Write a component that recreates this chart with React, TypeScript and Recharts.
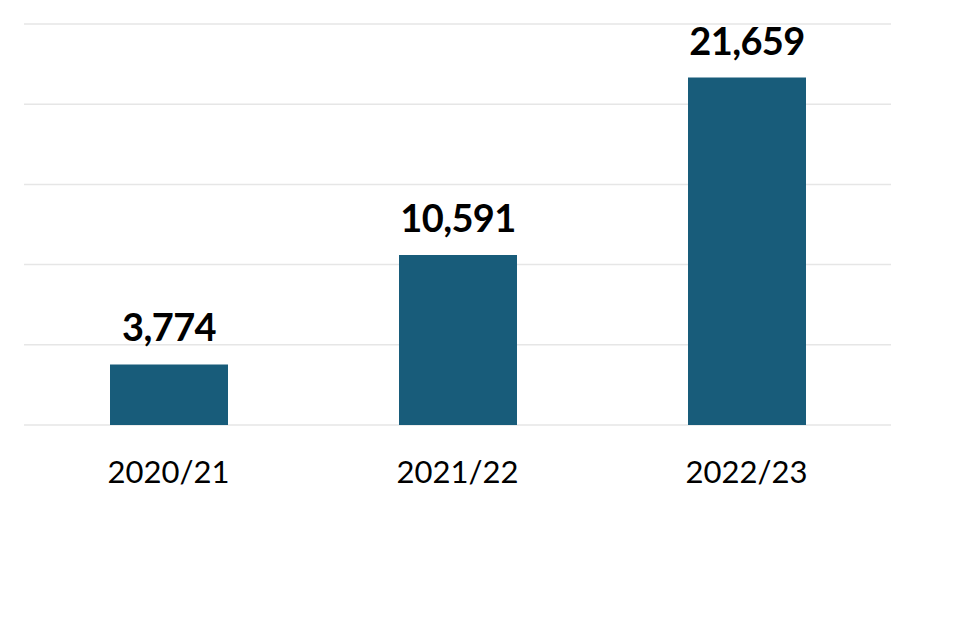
import React from 'react';
import { BarChart, Bar, XAxis, YAxis, CartesianGrid, LabelList } from 'recharts';

const categories = ['2020/21', '2021/22', '2022/23'];
const values = [3774, 10591, 21659];
const yTicks = [0, 5000, 10000, 15000, 20000, 25000];

const data = categories.map((c, i) => ({ year: c, value: values[i] }));

const fmt = (v: number) => v.toLocaleString('en-GB');

export default function App() {
  return (
    <div style={{ position: 'absolute', left: 0, top: 0, width: 960, height: 640, background: '#fff' }}>
      <BarChart
        width={960}
        height={640}
        data={data}
        margin={{ top: 24, right: 69, bottom: 155, left: 24 }}
      >
        <CartesianGrid horizontal vertical={false} stroke="#e6e6e6" strokeWidth={1.5} />
        <YAxis hide domain={[0, 25000]} ticks={yTicks} />
        <XAxis
          dataKey="year"
          axisLine={false}
          tickLine={false}
          tickSize={0}
          tickMargin={36}
          height={60}
          tick={{ fill: '#000', fontSize: 31, fontFamily: 'Lato' }}
        />
        <Bar dataKey="value" fill="#185c7a" barSize={118} isAnimationActive={false}>
          <LabelList
            dataKey="value"
            position="top"
            offset={23}
            formatter={(v: any) => fmt(Number(v))}
            style={{ fill: '#000', fontSize: 38, fontWeight: 700, fontFamily: 'Lato', letterSpacing: -0.6 }}
          />
        </Bar>
      </BarChart>
    </div>
  );
}
